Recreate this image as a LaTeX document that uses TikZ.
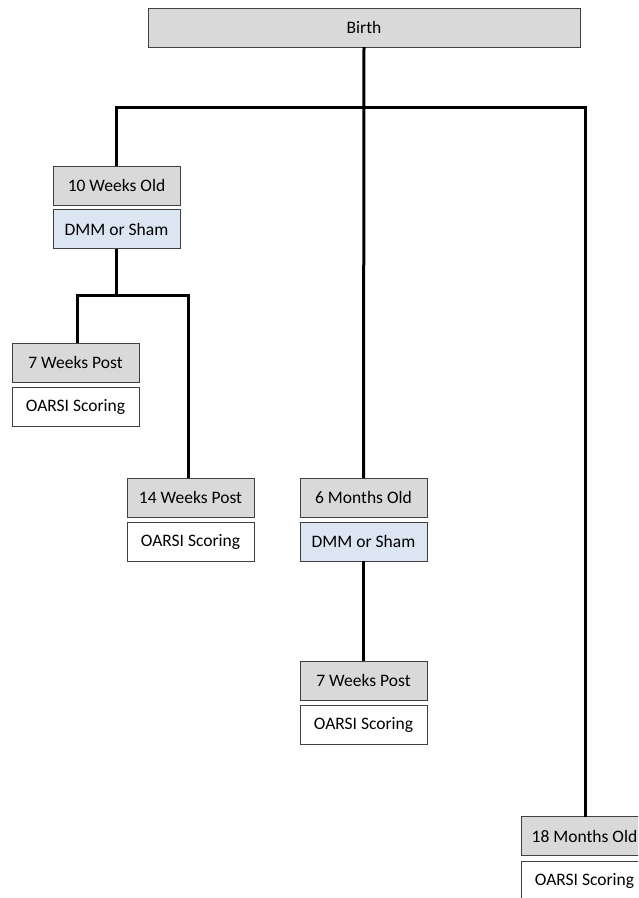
\documentclass[tikz,border=0pt]{standalone}
\usepackage{fontspec}
\setmainfont{Carlito}
\definecolor{boxgray}{HTML}{D9D9D9}
\definecolor{boxblue}{HTML}{DCE6F2}
\definecolor{edgegray}{HTML}{404040}
\begin{document}
\begin{tikzpicture}[x=1pt,y=-1pt,
  box/.style={draw=edgegray,line width=0.9pt,anchor=north west,minimum width=127pt,minimum height=39pt,inner sep=0pt,outer sep=0pt,font=\fontsize{17.5}{21}\selectfont},
  greybox/.style={box,fill=boxgray},
  bluebox/.style={box,fill=boxblue},
  plainbox/.style={box,fill=white},
  conn/.style={line width=3pt,black}]
\useasboundingbox (0,0) rectangle (638,898);
\clip (0,0) rectangle (638,898);
% nodes
\node[greybox,minimum width=432pt] (birth) at (148,8) {Birth};
\node[greybox] (tenw) at (53,166) {10 Weeks Old};
\node[bluebox] (dmm1) at (53,209.5) {DMM or Sham};
\node[greybox] (sevw1) at (12,343) {7 Weeks Post};
\node[plainbox] (oar1) at (12,387) {OARSI Scoring};
\node[greybox] (fourw) at (127,478) {14 Weeks Post};
\node[plainbox] (oar2) at (127,522) {OARSI Scoring};
\node[greybox] (sixm) at (300,478) {6 Months Old};
\node[bluebox] (dmm2) at (300,522) {DMM or Sham};
\node[greybox] (sevw2) at (300,661) {7 Weeks Post};
\node[plainbox] (oar3) at (300,705.5) {OARSI Scoring};
\node[greybox] (eigm) at (521,816.5) {18 Months Old};
\node[plainbox] (oar4) at (521,861) {OARSI Scoring};
% connectors
\coordinate (j1) at (birth.south |- 0,107);
\coordinate (j2) at (dmm1.south |- 0,295);
\draw[conn] (birth.south) -- (sixm.north);
\draw[conn] (j1) -| (tenw.north);
\draw[conn] (j1) -| ([xshift=0.5pt]eigm.north);
\draw[conn] (dmm1.south) -- (j2);
\draw[conn] (j2) -| ([xshift=1.5pt]sevw1.north);
\draw[conn] (j2) -| ([xshift=-2.5pt]fourw.north);
\draw[conn] (dmm2.south) -- (sevw2.north);
\end{tikzpicture}
\end{document}
